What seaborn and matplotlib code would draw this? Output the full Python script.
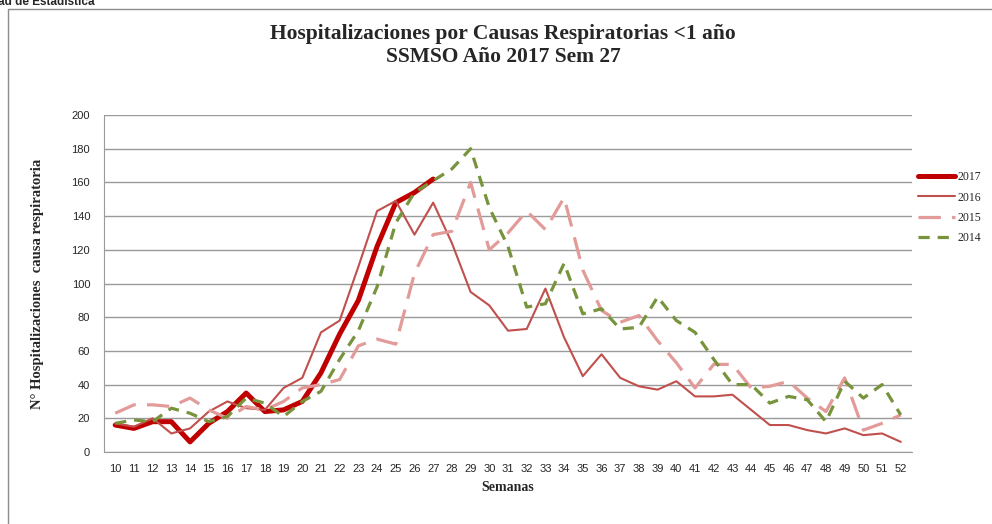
import numpy as np
import pandas as pd
import matplotlib
matplotlib.use("Agg")
import matplotlib.pyplot as plt
from matplotlib.patches import Rectangle
import seaborn as sns

semanas = list(range(10, 53))

# valores
y2017 = [16, 14, 18, 18, 6, 17, 24, 35, 24, 25, 30, 47, 70, 90, 122, 148, 154, 162]
y2016 = [17, 15, 20, 11, 14, 24, 30, 26, 25, 38, 44, 71, 78, 110, 143, 149, 129, 148,
         124, 95, 87, 72, 73, 97, 68, 45, 58, 44, 39, 37, 42, 33, 33, 34, 25, 16, 16,
         13, 11, 14, 10, 11, 6]
y2015 = [23, 28, 28, 27, 32, 25, 20, 27, 25, 30, 38, 40, 43, 63, 67, 64, 106, 129,
         131, 160, 120, 130, 143, 132, 151, 108, 84, 77, 81, 66, 53, 38, 52, 52, 38,
         39, 42, 32, 24, 44, 13, 17, 22]
y2014 = [17, 19, 18, 26, 23, 18, 21, 32, 29, 21, 30, 36, 55, 72, 98, 136, 154, 161,
         168, 180, 145, 122, 86, 88, 112, 82, 85, 73, 74, 92, 78, 71, 55, 40, 40, 29,
         33, 31, 18, 42, 32, 40, 22]

series = {"2017": y2017, "2016": y2016, "2015": y2015, "2014": y2014}
estilos = {
    "2017": dict(color="#C00000", lw=3.6),
    "2016": dict(color="#C0504D", lw=1.5),
    "2015": dict(color="#E29B99", lw=2.3, dashes=(7, 3.5)),
    "2014": dict(color="#77933C", lw=2.3, dashes=(3.5, 2.5)),
}

frames = []
for anio, vals in series.items():
    frames.append(pd.DataFrame({"semana": semanas[:len(vals)], "casos": vals, "anio": anio}))
df = pd.concat(frames, ignore_index=True)

sns.set_style("white")
plt.rcParams["font.family"] = ["Liberation Sans", "DejaVu Sans"]

fig = plt.figure(figsize=(9.92, 5.24), dpi=100)
ax = fig.add_axes([104 / 992, 1 - 452 / 524, 808 / 992, 337 / 524])

for anio in series:
    d = df[df["anio"] == anio]
    st = estilos[anio]
    sns.lineplot(data=d, x="semana", y="casos", ax=ax, color=st["color"],
                 linewidth=st["lw"], label=anio, solid_joinstyle="round")
    l = ax.lines[-1]
    if "dashes" in st:
        l.set_dashes(st["dashes"])
        l.set_dash_capstyle("butt")

ax.set_xlim(9.4, 52.6)
ax.set_ylim(0, 200)
ax.set_yticks(range(0, 201, 20))
ax.set_xticks(semanas)
ax.set_xticklabels([str(s) for s in semanas], fontsize=8)
ax.tick_params(axis="y", labelsize=8, length=4, color="#888888", pad=6)
ax.tick_params(axis="x", length=0, pad=9)
ax.grid(axis="y", color="#9a9a9a", lw=1)
for s in ["top", "right"]:
    ax.spines[s].set_visible(False)
for s in ["left", "bottom"]:
    ax.spines[s].set_color("#9a9a9a")

ax.set_xlabel("Semanas", fontsize=10, fontweight="bold", family="Liberation Serif", labelpad=5)
ax.set_ylabel("N° Hospitalizaciones  causa respiratoria", fontsize=10.5, fontweight="bold",
              family="Liberation Serif", labelpad=20)

ax.legend(loc="upper left", bbox_to_anchor=(1.005, 0.84), frameon=False, borderaxespad=0,
          borderpad=0.2, prop={"family": "Liberation Serif", "size": 8.5}, handlelength=3.1,
          handletextpad=0.2, labelspacing=0.7)

fig.text(503 / 992, 1 - 34 / 524, "Hospitalizaciones por Causas Respiratorias <1 año",
         ha="center", va="center", fontsize=15.5, fontweight="bold", family="Liberation Serif")
fig.text(503 / 992, 1 - 57 / 524, "SSMSO Año 2017 Sem 27",
         ha="center", va="center", fontsize=15.5, fontweight="bold", family="Liberation Serif")
fig.text(-2 / 992, 1 - 2 / 524, "ad de Estadística", ha="left", va="center",
         fontsize=8.5, fontweight="bold")

fig.patches.append(Rectangle((8 / 992, -0.1), 1.2, 1 - 9 / 524 + 0.1, transform=fig.transFigure,
                             fill=False, edgecolor="#8c8c8c", lw=1))

fig.savefig("out.png", dpi=100)
